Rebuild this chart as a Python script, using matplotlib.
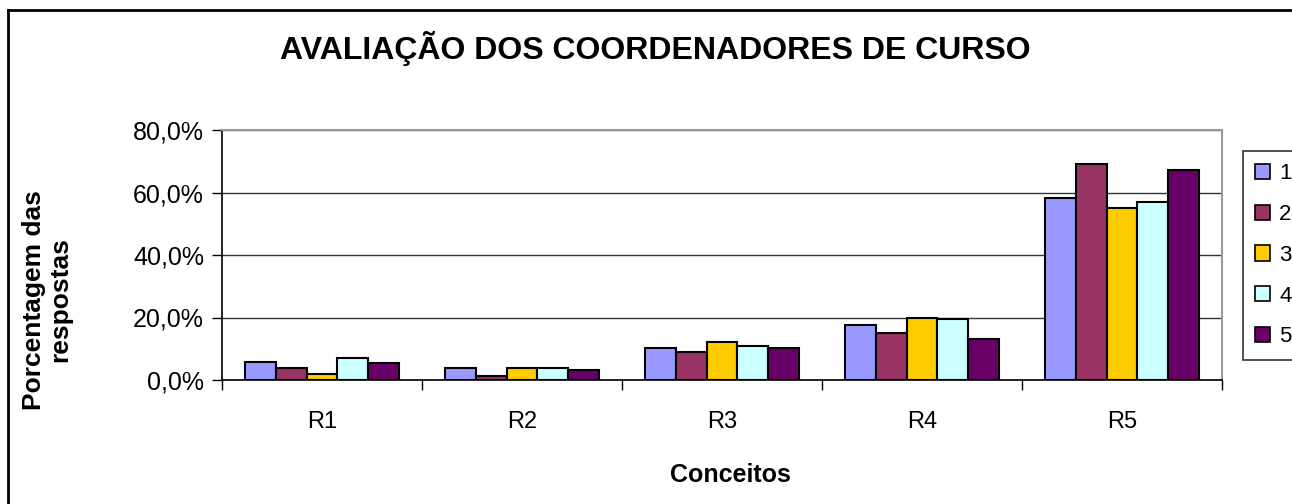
import numpy as np
import matplotlib
matplotlib.use("Agg")
import matplotlib.pyplot as plt
from matplotlib.lines import Line2D

plt.rcParams['font.family'] = ['Liberation Sans', 'DejaVu Sans']

# percentages
conceitos = ["R1", "R2", "R3", "R4", "R5"]
series_names = ["1", "2", "3", "4", "5"]
s1 = [5.9, 3.8, 10.3, 17.5, 58.2]
s2 = [3.9, 1.4, 9.0, 14.9, 69.1]
s3 = [2.0, 3.8, 12.2, 20.0, 55.0]
s4 = [7.0, 3.8, 10.9, 19.4, 57.0]
s5 = [5.3, 3.2, 10.3, 13.0, 67.3]
cores = ["#9999ff", "#993366", "#ffcc00", "#ccffff", "#660066"]

W, H = 1292, 504
fig = plt.figure(figsize=(W / 100, H / 100), dpi=100)
ax = fig.add_axes([222 / W, 1 - 380 / H, 1000 / W, 250 / H])

x = np.arange(len(conceitos))
bw = 0.154
for i, (vals, cor) in enumerate(zip([s1, s2, s3, s4, s5], cores)):
    ax.bar(x + (i - 2) * bw, vals, bw, color=cor, edgecolor="black",
           linewidth=1.5, label=series_names[i], zorder=3)

ax.set_xlim(-0.5, 4.5)
ax.set_ylim(0, 80)
ax.set_yticks([0, 20, 40, 60, 80])
ax.set_yticklabels(["0,0%", "20,0%", "40,0%", "60,0%", "80,0%"], fontsize=18)
ax.yaxis.grid(True, color="#333333", linewidth=1, zorder=0)
ax.set_xticks(x)
ax.set_xticklabels(conceitos, fontsize=17)
ax.tick_params(axis="x", length=0, pad=22)
ax.tick_params(axis="y", length=7, width=1, direction="out", pad=6)
# category divider ticks
ax.set_xticks(np.arange(-0.5, 5.0, 1.0), minor=True)
ax.tick_params(axis="x", which="minor", length=7, width=1, direction="out")

for s in ["top", "right"]:
    ax.spines[s].set_color("#999999")
    ax.spines[s].set_linewidth(1.5)
for s in ["left", "bottom"]:
    ax.spines[s].set_color("black")
    ax.spines[s].set_linewidth(1.2)

fig.text(655 / W, 1 - 48 / H, "AVALIAÇÃO DOS COORDENADORES DE CURSO",
         ha="center", va="center", fontsize=23, fontweight="bold")
fig.text(730 / W, 1 - 475 / H, "Conceitos", ha="center", va="center",
         fontsize=18, fontweight="bold")
fig.text(47 / W, 1 - 300 / H, "Porcentagem das\nrespostas", ha="center",
         va="center", rotation=90, fontsize=19, fontweight="bold",
         linespacing=1.15)

leg = fig.legend(loc="upper left", bbox_to_anchor=(1243 / W, 1 - 151 / H),
                 fontsize=16, frameon=True, fancybox=False, edgecolor="black",
                 handlelength=0.68, handleheight=0.68, handletextpad=0.4,
                 labelspacing=0.89, borderpad=0.55, borderaxespad=0)
leg.get_frame().set_linewidth(1.2)
for h in leg.legend_handles:
    h.set_linewidth(1.2)

# outer chart frame (cut off at right and bottom)
fig.add_artist(Line2D([8 / W, 8 / W], [0, 1 - 10 / H], color="black",
                      linewidth=2, transform=fig.transFigure))
fig.add_artist(Line2D([8 / W, 1], [1 - 10 / H, 1 - 10 / H], color="black",
                      linewidth=2, transform=fig.transFigure))

fig.savefig("out.png", dpi=100)
